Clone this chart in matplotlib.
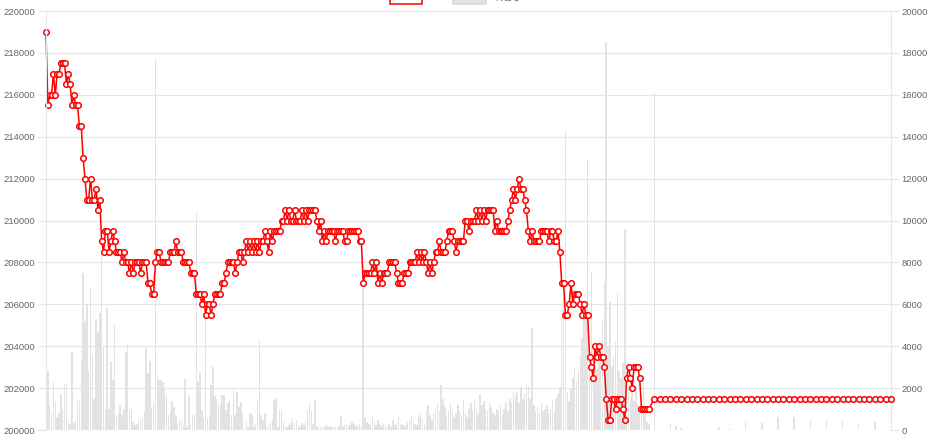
#!/usr/bin/env python3

import numpy as np
import matplotlib

matplotlib.use("Agg")
import matplotlib.pyplot as plt
from matplotlib.patches import Rectangle

# price per tick (steps of 500)
price_open = [219000, 215500, 216000, 216000, 217000, 216000, 217000, 217000, 217500, 217500,
              217500, 216500, 217000, 216500, 215500, 216000, 215500, 215500]
price_drop = [214500, 214500, 213000, 212000, 211000, 211000, 212000, 211000, 211000, 211500,
              210500, 211000, 209000, 208500, 209500, 209500, 208500, 209000, 209500, 209000,
              208500, 208500, 208500, 208000, 208500, 208000, 208000, 207500, 208000, 207500,
              208000, 208000, 208000, 207500, 208000, 208000, 208000, 207000, 207000, 206500,
              206500, 208000, 208500, 208500]
price_mid = [208000, 208000, 208000, 208000, 208000, 208500, 208500, 208500, 209000, 208500,
             208500, 208500, 208000, 208000, 208000, 208000, 207500, 207500, 207500, 206500,
             206500, 206500, 206000, 206500, 205500, 206000, 206000, 205500, 206000, 206500,
             206500, 206500, 206500, 207000, 207000, 207500, 208000, 208000, 208000, 208000,
             207500, 208000, 208500, 208500, 208000, 208500, 209000, 208500, 209000, 208500,
             209000, 208500, 209000, 208500, 209000, 209000, 209500, 209000, 208500, 209500,
             209000, 209500, 209500, 209500, 209500, 210000, 210000, 210500, 210000, 210500,
             210000, 210000, 210500, 210000, 210000, 210000, 210500, 210000, 210500, 210000,
             210500, 210500, 210500, 210500, 210000, 209500, 210000, 209000, 209500, 209000,
             209500, 209500, 209500, 209500]
price_late = [209000, 209500, 209500, 209500, 209500, 209000, 209000, 209500, 209500, 209500,
              209500, 209500, 209500, 209000, 209000, 207000, 207500, 207500, 207500, 207500,
              208000, 207500, 208000, 207000, 207500, 207000, 207500, 207500, 207500, 208000,
              208000, 208000, 208000, 207500, 207000, 207000, 207000, 207500, 207500, 207500,
              208000, 208000, 208000, 208000, 208500, 208000, 208500, 208000, 208500, 208000,
              207500, 208000, 207500, 208000, 208500, 208500, 209000, 208500, 208500, 208500,
              209000, 209500, 209500, 209500, 209000, 208500, 209000, 209000, 209000, 209000,
              210000, 210000, 209500, 210000, 210000, 210000, 210500, 210000, 210500, 210000,
              210500, 210000, 210500, 210500, 210500, 210500, 209500, 210000, 209500, 209500,
              209500, 209500, 209500, 210000, 210500, 211000, 211500, 211000, 211500, 212000,
              211500, 211500, 211000, 210500]
price_fall = [209500, 209000, 209500, 209000, 209000, 209000, 209000, 209500, 209500, 209500,
              209500, 209000, 209500, 209500, 209000, 209000, 209500, 208500, 207000, 207000,
              205500, 205500, 206000, 207000, 206000, 206500, 206500, 206500, 206000, 205500,
              206000, 205500, 205500, 203500, 203000, 202500, 204000, 203500, 204000, 203500,
              203500, 203000, 201500, 200500, 200500, 201500, 201500, 201000, 201500, 201500,
              201500, 201000, 200500, 202500, 203000, 202500, 202000, 203000, 203000, 203000,
              202500, 201000, 201000, 201000, 201000, 201000]
price_tail = [201500] * 45

# volume per tick (right axis)
vol_open = [10200, 2800, 1200, 800, 2300, 1400, 600, 800, 1700, 950,
            2200, 2200, 400, 300, 3700, 350, 500, 1500]
vol_drop = [1400, 3400, 7500, 5200, 6000, 2800, 6800, 3600, 1500, 5300,
            4700, 5600, 8500, 4000, 950, 5800, 1000, 3300, 2400, 5000,
            700, 800, 1200, 700, 1000, 3700, 4100, 900, 1000, 400,
            250, 300, 400, 500, 600, 900, 3900, 2700, 3300, 1100,
            1300, 17700, 2600, 2400]
vol_mid = [2400, 2300, 2000, 1700, 700, 870, 1400, 1100, 700, 300,
           500, 480, 250, 2450, 160, 1600, 250, 700, 750, 10400,
           2300, 2700, 950, 550, 6200, 550, 630, 2150, 3000, 1600,
           1500, 1300, 1200, 1670, 1670, 950, 1270, 1430, 700, 1900,
           700, 1830, 1100, 1350, 800, 100, 480, 160, 800, 700,
           160, 300, 1430, 4300, 700, 480, 800, 150, 200, 400,
           480, 1430, 1500, 160, 950, 950, 400, 160, 160, 250,
           350, 560, 320, 480, 250, 160, 320, 250, 400, 950,
           1340, 950, 300, 1430, 160, 200, 120, 160, 120, 250,
           160, 130, 200, 150]
vol_late = [130, 160, 200, 670, 160, 250, 300, 200, 250, 400,
            300, 200, 250, 300, 200, 6800, 600, 400, 300, 250,
            700, 400, 250, 500, 300, 200, 350, 250, 150, 300,
            200, 500, 250, 350, 600, 250, 300, 200, 250, 400,
            500, 700, 400, 300, 250, 600, 800, 500, 300, 900,
            1200, 700, 500, 800, 1000, 1300, 900, 2150, 1500, 1100,
            700, 900, 1300, 1000, 600, 800, 1200, 900, 700, 1500,
            800, 600, 1000, 1300, 900, 1500, 1100, 800, 1700, 1200,
            1400, 1000, 900, 1300, 1100, 800, 700, 1000, 900, 1200,
            700, 1000, 1300, 900, 1500, 1300, 1800, 1600, 1800, 1300,
            2050, 1500, 1700, 2150]
vol_fall = [2100, 1500, 4870, 1200, 900, 1100, 800, 1300, 900, 1000,
            1200, 800, 1000, 1400, 900, 1500, 1700, 2050, 5400, 6350,
            14300, 1800, 1400, 2000, 2500, 3000, 2300, 2800, 3600, 4400,
            5900, 5500, 12900, 4200, 7500, 4000, 3500, 2900, 3300, 3800,
            5200, 7000, 18500, 4000, 6100, 3000, 3500, 4200, 6500, 2800,
            2500, 3200, 9600, 2600, 2200, 1500, 1900, 1400, 2000, 1200,
            800, 1600, 2400, 700, 400, 300]
vol_tail = [16100, 0, 0, 300, 200, 100, 0, 0, 0, 0,
            0, 0, 150, 0, 80, 0, 0, 400, 0, 0,
            350, 0, 0, 600, 0, 0, 600, 0, 0, 500,
            0, 0, 500, 0, 0, 450, 0, 0, 300, 0,
            0, 400, 0, 0, 0]

legend_labels = ["价", "成交"]


def main():
	plt.rcParams["font.family"] = ["Liberation Sans", "Noto Sans CJK SC", "DejaVu Sans"]

	dense_p = price_open + price_drop + price_mid + price_late + price_fall
	dense_v = vol_open + vol_drop + vol_mid + vol_late + vol_fall
	if len(dense_p) != len(dense_v) or len(price_tail) != len(vol_tail):
		raise ValueError(f"length mismatch {len(dense_p)} {len(dense_v)} {len(price_tail)} {len(vol_tail)}")

	# dense ticks one unit apart, the quiet tail is sampled more sparsely
	x_dense = np.arange(len(dense_p))
	x_tail = x_dense[-1] + 2.9 * np.arange(1, len(price_tail) + 1)
	x = np.concatenate([x_dense, x_tail])
	price = dense_p + price_tail
	volume = dense_v + vol_tail

	fig = plt.figure(figsize=(9.37, 4.48), dpi=100)
	ax = fig.add_axes([46 / 937, 18 / 448, 845 / 937, 419 / 448])
	ax2 = ax.twinx()

	grid_c = "#e6e6e6"
	ax2.bar(x, volume, width=0.8, color="#e3e3e3", linewidth=0)
	ax2.set_ylim(0, 20000)
	ax2.set_yticks(range(0, 20001, 2000))
	ax2.grid(axis="y", color=grid_c, linewidth=0.8)
	ax2.set_axisbelow(True)

	ax.plot(x, price, color="#ff0000", linewidth=1.1, marker="o", markersize=4,
	        markerfacecolor="white", markeredgecolor="#ff0000", markeredgewidth=1.1, clip_on=False)
	ax.set_ylim(200000, 220000)
	ax.set_yticks(range(200000, 220001, 2000))
	ax.set_xlim(x[0], x[-1])
	ax.set_xticks([])
	ax.set_zorder(ax2.get_zorder() + 1)
	ax.patch.set_visible(False)

	for a in (ax, ax2):
		for s in a.spines.values():
			s.set_visible(False)
		a.tick_params(axis="y", length=6, width=0.8, color=grid_c, labelcolor="#666666",
		              labelsize=6.8, pad=1.5)
	ax.spines["left"].set_visible(True)
	ax.spines["left"].set_color(grid_c)
	ax2.spines["right"].set_visible(True)
	ax2.spines["right"].set_color(grid_c)

	# legend sits above the top edge and is mostly cut off, as in the source
	fig.add_artist(Rectangle((390 / 937, 1 - 4 / 448), 32 / 937, 10 / 448, transform=fig.transFigure,
	                         facecolor="white", edgecolor="#ff0000", linewidth=1.1))
	fig.add_artist(Rectangle((453 / 937, 1 - 4 / 448), 33 / 937, 10 / 448, transform=fig.transFigure,
	                         facecolor="#e3e3e3", edgecolor="#d6d6d6", linewidth=1.1))
	fig.text(431 / 937, 1 - 3 / 448, legend_labels[0], fontsize=8.6, color="#666666", va="bottom")
	fig.text(496 / 937, 1 - 3 / 448, legend_labels[1], fontsize=8.6, color="#666666", va="bottom")

	fig.savefig("out.png", dpi=100)


if __name__ == "__main__":
	main()
